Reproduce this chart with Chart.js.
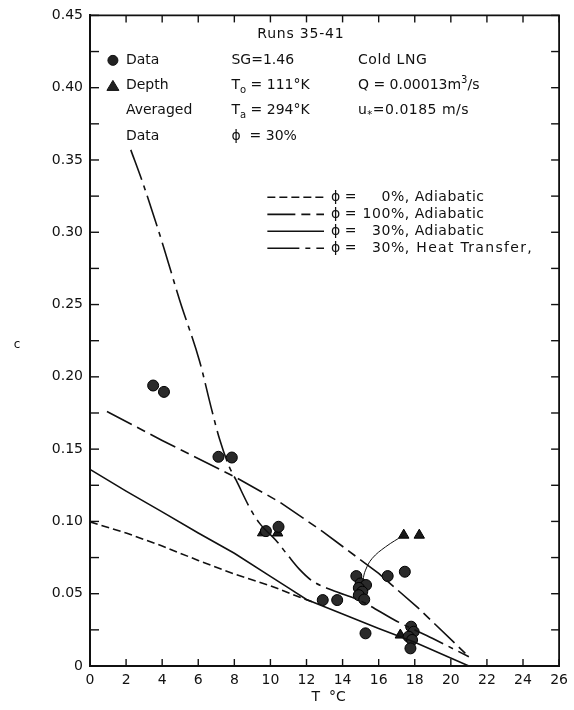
<!DOCTYPE html>
<html>
<head>
<meta charset="utf-8">
<script src="https://cdn.jsdelivr.net/npm/chart.js@4.4.1/dist/chart.umd.min.js"></script>
<style>
  html, body { margin: 0; padding: 0; background: #fff; }
  #wrap { width: 574px; height: 710px; }
</style>
</head>
<body>
<div id="wrap"><canvas id="chart" width="574" height="710"></canvas></div>
<script>
// ---- data (T in °C, c dimensionless) ----
const xTickValues = [0, 2, 4, 6, 8, 10, 12, 14, 16, 18, 20, 22, 24, 26];
const yTickValues = [0, 0.05, 0.10, 0.15, 0.20, 0.25, 0.30, 0.35, 0.40, 0.45];
const yMinorTicks = [0.025, 0.075, 0.125, 0.175, 0.225, 0.275, 0.325, 0.375, 0.425];

// phi = 0%, adiabatic
const a0T = [0, 2, 4, 6, 8, 10, 11.6, 12.3];
const a0C = [0.0997, 0.092, 0.083, 0.073, 0.0636, 0.0555, 0.0477, 0.0445];
// phi = 100%, adiabatic
const a100T = [0.94, 4, 8, 10.5, 12.9, 16, 18.2, 21];
const a100C = [0.176, 0.156, 0.131, 0.1135, 0.093, 0.064, 0.040, 0.0064];
// phi = 30%, adiabatic
const a30T = [0, 2, 4, 6, 8, 10, 11, 12, 14, 16, 18, 21];
const a30C = [0.136, 0.121, 0.1066, 0.092, 0.078, 0.062, 0.054, 0.046, 0.036, 0.026, 0.0165, 0];
// phi = 30%, heat transfer
const htT = [2.26, 2.93, 4.0, 4.97, 6.07, 6.73, 7.18, 7.73, 8.1, 8.83, 9.38, 10.3, 11.0, 11.6, 12.3, 13.4, 15.0, 17.0, 19.0, 21.0];
const htC = [0.357, 0.334, 0.293, 0.253, 0.211, 0.178, 0.157, 0.1375, 0.1285, 0.110, 0.099, 0.087, 0.076, 0.067, 0.059, 0.0525, 0.045, 0.031, 0.019, 0.0064];

// data points (circles) and depth-averaged data (triangles)
const dataT = [3.5, 4.1, 7.12, 7.86, 9.75, 10.45, 17.45, 16.5, 14.76, 15.0, 15.3, 14.9, 15.09, 14.9, 15.2, 12.9, 13.7, 15.27, 17.8, 17.94, 17.66, 17.85, 17.76];
const dataC = [0.194, 0.1896, 0.1447, 0.1442, 0.0933, 0.0963, 0.0652, 0.0622, 0.0622, 0.0571, 0.056, 0.054, 0.0514, 0.049, 0.046, 0.0456, 0.0456, 0.0226, 0.0272, 0.0237, 0.0203, 0.018, 0.0122];
const depthT = [9.57, 10.4, 17.39, 18.25, 17.2];
const depthC = [0.0921, 0.092, 0.0905, 0.0905, 0.0214];
// thin connector from the triangle down to the cluster
const arcT = [15.12, 15.27, 15.64, 16.38, 17.39];
const arcC = [0.0594, 0.0663, 0.0744, 0.0824, 0.0905];

const ink = '#111';
const font = '"DejaVu Sans", sans-serif';
const dash0 = [8, 4];
const dash100 = [28, 6, 9, 6];
const dashHT = [32, 6, 5, 6];

const pts = (xs, ys) => xs.map((v, i) => ({ x: v, y: ys[i] }));

// annotation text (positions in data units)
const infoRows = [0.4189, 0.4016, 0.3843, 0.3663];
const col1T = 1.99, col2T = 7.84, col3T = 14.85, markT = 1.27;
const legendRows = [0.3242, 0.3124, 0.3007, 0.2889];
const legendLineT = [9.83, 12.97];
const legendPhiT = 13.36, legendPctT = 17.45;
const legendItems = [
  { dash: dash0, pct: '0%', label: ', Adiabatic', spacing: '0.5px' },
  { dash: dash100, pct: '100%', label: ', Adiabatic', spacing: '0.5px' },
  { dash: [], pct: '30%', label: ', Adiabatic', spacing: '0.5px' },
  { dash: dashHT, pct: '30%', label: ', Heat Transfer,', spacing: '1.3px' }
];

const annotate = {
  id: 'annotate',
  afterDraw(chart) {
    const { ctx, chartArea: a, scales: { x, y } } = chart;
    const line = (x1, y1, x2, y2) => { ctx.beginPath(); ctx.moveTo(x1, y1); ctx.lineTo(x2, y2); ctx.stroke(); };
    ctx.save();
    ctx.strokeStyle = ink;
    ctx.fillStyle = ink;
    ctx.lineWidth = 1.8;
    // top and right frame
    ctx.beginPath();
    ctx.moveTo(a.left, a.top); ctx.lineTo(a.right, a.top); ctx.lineTo(a.right, a.bottom);
    ctx.stroke();
    // inward ticks
    ctx.lineWidth = 1.4;
    yTickValues.concat(yMinorTicks).forEach(v => {
      const py = y.getPixelForValue(v);
      line(a.left, py, a.left + 9, py);
      line(a.right, py, a.right - 8, py);
    });
    xTickValues.forEach(v => {
      const px = x.getPixelForValue(v);
      line(px, a.bottom, px, a.bottom - 7);
      line(px, a.top, px, a.top + 7);
    });

    // rich text helper: parts = [[text, 'sub'|'sup'|undefined], ...]
    const rich = (parts, T, c, align, spacing) => {
      ctx.textBaseline = 'middle';
      ctx.textAlign = 'left';
      ctx.letterSpacing = spacing || '0px';
      let px = x.getPixelForValue(T);
      const py = y.getPixelForValue(c);
      const widths = parts.map(([t, k]) => { ctx.font = (k ? '10px ' : '14px ') + font; return ctx.measureText(t).width; });
      if (align === 'right') px -= widths.reduce((s, w) => s + w, 0);
      parts.forEach(([t, k], i) => {
        ctx.font = (k ? '10px ' : '14px ') + font;
        const dy = k === 'sub' ? 5 : (k === 'sup' ? -5 : 0);
        ctx.fillText(t, px, py + dy);
        px += widths[i];
      });
      ctx.letterSpacing = '0px';
    };

    rich([['Runs 35-41']], 9.27, 0.4368, null, '0.8px');
    ['Data', 'Depth', 'Averaged', 'Data'].forEach((t, i) => rich([[t]], col1T, infoRows[i]));
    rich([['SG=1.46']], col2T, infoRows[0]);
    rich([['T'], ['o', 'sub'], [' = 111°K']], col2T, infoRows[1]);
    rich([['T'], ['a', 'sub'], [' = 294°K']], col2T, infoRows[2]);
    rich([['ϕ  = 30%']], col2T, infoRows[3]);
    rich([['Cold LNG']], col3T, infoRows[0], null, '0.6px');
    rich([['Q = 0.00013m'], ['3', 'sup'], ['/s']], col3T, infoRows[1]);
    rich([['u'], ['*', 'sub'], ['=0.0185 m/s']], col3T, infoRows[2], null, '0.5px');

    // legend markers
    ctx.fillStyle = '#222';
    ctx.lineWidth = 1;
    ctx.beginPath();
    ctx.arc(x.getPixelForValue(markT), y.getPixelForValue(infoRows[0]), 5, 0, Math.PI * 2);
    ctx.fill(); ctx.stroke();
    const tx = x.getPixelForValue(markT), ty = y.getPixelForValue(infoRows[1]);
    ctx.beginPath();
    ctx.moveTo(tx, ty - 5); ctx.lineTo(tx + 6, ty + 5); ctx.lineTo(tx - 6, ty + 5); ctx.closePath();
    ctx.fill(); ctx.stroke();
    ctx.fillStyle = ink;

    // line legend
    legendItems.forEach((it, i) => {
      const py = y.getPixelForValue(legendRows[i]);
      ctx.lineWidth = 1.6;
      ctx.setLineDash(it.dash);
      line(x.getPixelForValue(legendLineT[0]), py, x.getPixelForValue(legendLineT[1]), py);
      ctx.setLineDash([]);
      rich([['ϕ =']], legendPhiT, legendRows[i]);
      rich([[it.pct]], legendPctT, legendRows[i], 'right', '0.6px');
      rich([[it.label]], legendPctT, legendRows[i], null, it.spacing);
    });

    // axis titles
    ctx.font = '14px ' + font;
    ctx.textAlign = 'center';
    ctx.textBaseline = 'middle';
    ctx.fillText('T  °C', (a.left + a.right) / 2 + 4, a.bottom + 31);
    ctx.font = '12px ' + font;
    ctx.fillText('c', 17, (a.top + a.bottom) / 2 + 4);
    ctx.restore();
  }
};

const lineDs = (xs, ys, dash, extra) => Object.assign({
  type: 'line', data: pts(xs, ys), borderColor: ink, borderWidth: 1.6,
  borderDash: dash, pointRadius: 0, fill: false, tension: 0
}, extra || {});

new Chart(document.getElementById('chart'), {
  type: 'scatter',
  data: {
    datasets: [
      lineDs(a0T, a0C, dash0),
      lineDs(a100T, a100C, dash100),
      lineDs(a30T, a30C, []),
      lineDs(htT, htC, dashHT, { cubicInterpolationMode: 'monotone' }),
      lineDs(arcT, arcC, [], { borderWidth: 1, tension: 0.4 }),
      { label: 'Data', data: pts(dataT, dataC), pointStyle: 'circle', pointRadius: 5.5,
        backgroundColor: '#2a2a2a', borderColor: '#000', borderWidth: 1 },
      { label: 'Depth Averaged Data', data: pts(depthT, depthC), pointStyle: 'triangle', pointRadius: 6,
        backgroundColor: '#1a1a1a', borderColor: '#000', borderWidth: 1 }
    ]
  },
  options: {
    responsive: false,
    animation: false,
    events: [],
    layout: { padding: { top: 15, right: 13, left: 0, bottom: 0 } },
    plugins: { legend: { display: false }, tooltip: { enabled: false } },
    scales: {
      x: {
        type: 'linear', min: 0, max: 26,
        afterBuildTicks: s => { s.ticks = xTickValues.map(v => ({ value: v })); },
        afterFit: s => { s.height = 44; },
        grid: { display: false, drawTicks: false },
        border: { display: true, color: ink, width: 2 },
        ticks: { color: ink, padding: 6, maxRotation: 0, font: { family: font, size: 14 } }
      },
      y: {
        type: 'linear', min: 0, max: 0.45,
        afterBuildTicks: s => { s.ticks = yTickValues.map(v => ({ value: v })); },
        afterFit: s => { s.width = 90; },
        grid: { display: false, drawTicks: false },
        border: { display: true, color: ink, width: 2 },
        ticks: {
          color: ink, padding: 7, font: { family: font, size: 14 },
          callback: v => (v === 0 ? '0' : v.toFixed(2))
        }
      }
    }
  },
  plugins: [annotate]
});
</script>
</body>
</html>
